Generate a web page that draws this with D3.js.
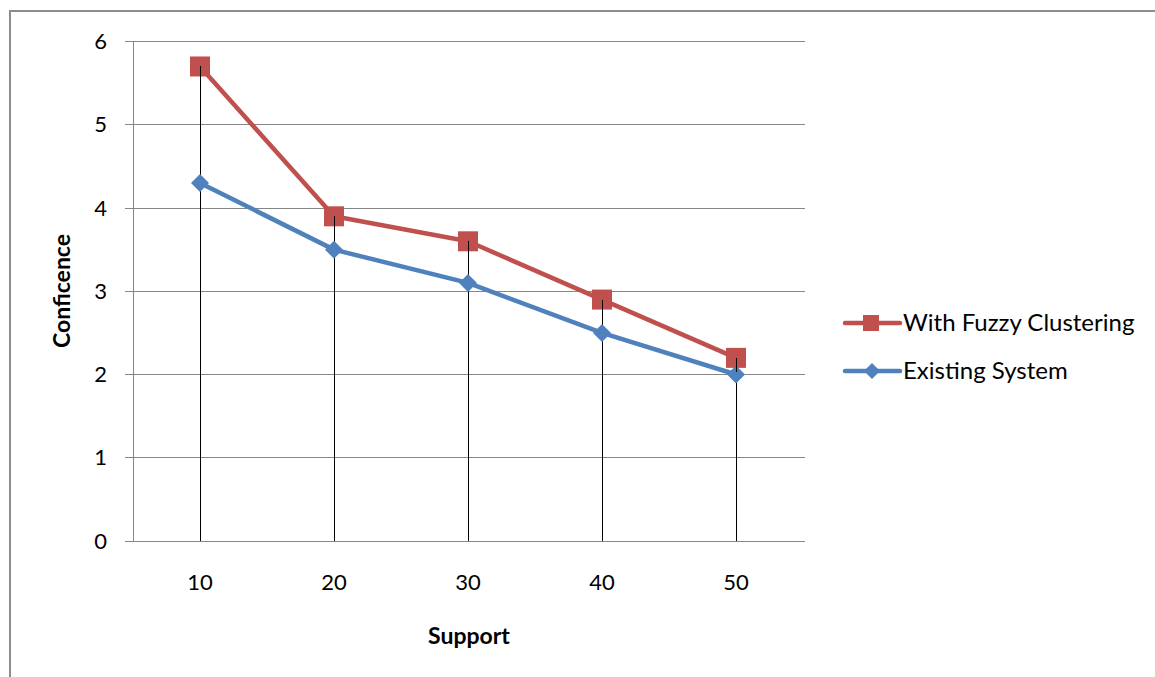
<!DOCTYPE html>
<html><head><meta charset="utf-8">
<script src="https://cdn.jsdelivr.net/npm/d3@7"></script>
<style>body{margin:0;background:#fff;} svg{display:block;}</style>
</head><body>
<svg id="c" width="1155" height="677"></svg>
<script>
const categories = ["10","20","30","40","50"];
const fuzzy = [5.7, 3.9, 3.6, 2.9, 2.2];
const existing = [4.3, 3.5, 3.1, 2.5, 2.0];
const yTicks = [0,1,2,3,4,5,6];
const seriesNames = ["With Fuzzy Clustering","Existing System"];

(function(){
const font = "Lato, 'Open Sans', sans-serif";
const svg = d3.select("#c");
svg.append("rect").attr("x",10).attr("y",11).attr("width",1160).attr("height",680)
  .attr("fill","#fff").attr("stroke","#8c8c8c").attr("stroke-width",2);

const pL=133, pR=803, pT=41.5, pB=541;
const x = d3.scaleBand().domain(categories).range([pL,pR]);
const y = d3.scaleLinear().domain([0,6]).range([pB,pT]);

svg.append("g").selectAll("line").data(yTicks).join("line")
  .attr("x1",pL-8).attr("x2",pR+2).attr("y1",d=>y(d)).attr("y2",d=>y(d))
  .attr("stroke","#868686").attr("stroke-width",1).attr("shape-rendering","crispEdges");
svg.append("line").attr("x1",pL).attr("x2",pL).attr("y1",pT).attr("y2",pB)
  .attr("stroke","#868686").attr("shape-rendering","crispEdges");

svg.append("g").selectAll("text").data(yTicks).join("text")
  .attr("x",107).attr("y",d=>y(d)).attr("dy","0.35em").attr("text-anchor","end")
  .attr("font-family",font).attr("font-size",22).attr("fill","#000").text(d=>d);
svg.append("g").selectAll("text").data(categories).join("text")
  .attr("x",d=>x(d)+x.bandwidth()/2).attr("y",582).attr("dy","0.35em").attr("text-anchor","middle")
  .attr("font-family",font).attr("font-size",22).attr("fill","#000").text(d=>d);

const cx = d=>x(d)+x.bandwidth()/2;
svg.append("g").selectAll("line").data(categories).join("line")
  .attr("x1",d=>cx(d)).attr("x2",d=>cx(d))
  .attr("y1",(d,i)=>y(Math.max(fuzzy[i],existing[i]))).attr("y2",pB)
  .attr("stroke","#000").attr("stroke-width",1).attr("shape-rendering","crispEdges");

const line = d3.line().x((d,i)=>cx(categories[i])).y(d=>y(d));
svg.append("path").datum(existing).attr("d",line).attr("fill","none")
  .attr("stroke","#4F81BD").attr("stroke-width",4.5).attr("stroke-linejoin","round");
svg.append("path").datum(fuzzy).attr("d",line).attr("fill","none")
  .attr("stroke","#C0504D").attr("stroke-width",4.5).attr("stroke-linejoin","round");

const diamond = (px,py,s)=>`M${px},${py-s}L${px+s},${py}L${px},${py+s}L${px-s},${py}Z`;
svg.append("g").selectAll("path").data(existing).join("path")
  .attr("d",(d,i)=>diamond(cx(categories[i]),y(d),9)).attr("fill","#4F81BD");
svg.append("g").selectAll("rect").data(fuzzy).join("rect")
  .attr("x",(d,i)=>cx(categories[i])-10).attr("y",d=>y(d)-10).attr("width",20).attr("height",20)
  .attr("fill","#C0504D");
svg.append("g").selectAll("line").data(categories).join("line")
  .attr("x1",d=>cx(d)).attr("x2",d=>cx(d))
  .attr("y1",(d,i)=>y(Math.max(fuzzy[i],existing[i]))).attr("y2",(d,i)=>y(Math.max(fuzzy[i],existing[i]))+14)
  .attr("stroke","#000").attr("stroke-width",1).attr("shape-rendering","crispEdges");

svg.append("text").attr("x",469).attr("y",636).attr("dy","0.35em").attr("text-anchor","middle")
  .attr("font-family",font).attr("font-size",23).attr("font-weight","bold").text("Support");
svg.append("text").attr("transform","translate(62,291) rotate(-90)").attr("dy","0.35em")
  .attr("text-anchor","middle").attr("font-family",font).attr("font-size",23).attr("font-weight","bold").text("Conficence");

const lg = svg.append("g");
const ly = [323,371];
lg.append("line").attr("x1",845).attr("x2",900).attr("y1",ly[0]).attr("y2",ly[0]).attr("stroke","#C0504D").attr("stroke-width",4.5).attr("stroke-linecap","round");
lg.append("rect").attr("x",863).attr("y",ly[0]-8).attr("width",16).attr("height",16).attr("fill","#C0504D");
lg.append("line").attr("x1",845).attr("x2",900).attr("y1",ly[1]).attr("y2",ly[1]).attr("stroke","#4F81BD").attr("stroke-width",4.5).attr("stroke-linecap","round");
lg.append("path").attr("d",diamond(872,ly[1],8)).attr("fill","#4F81BD");
lg.selectAll("text").data(seriesNames).join("text")
  .attr("x",903).attr("y",(d,i)=>ly[i]).attr("dy","0.35em")
  .attr("font-family",font).attr("font-size",24).attr("fill","#000").text(d=>d);
})();
</script>
</body></html>
